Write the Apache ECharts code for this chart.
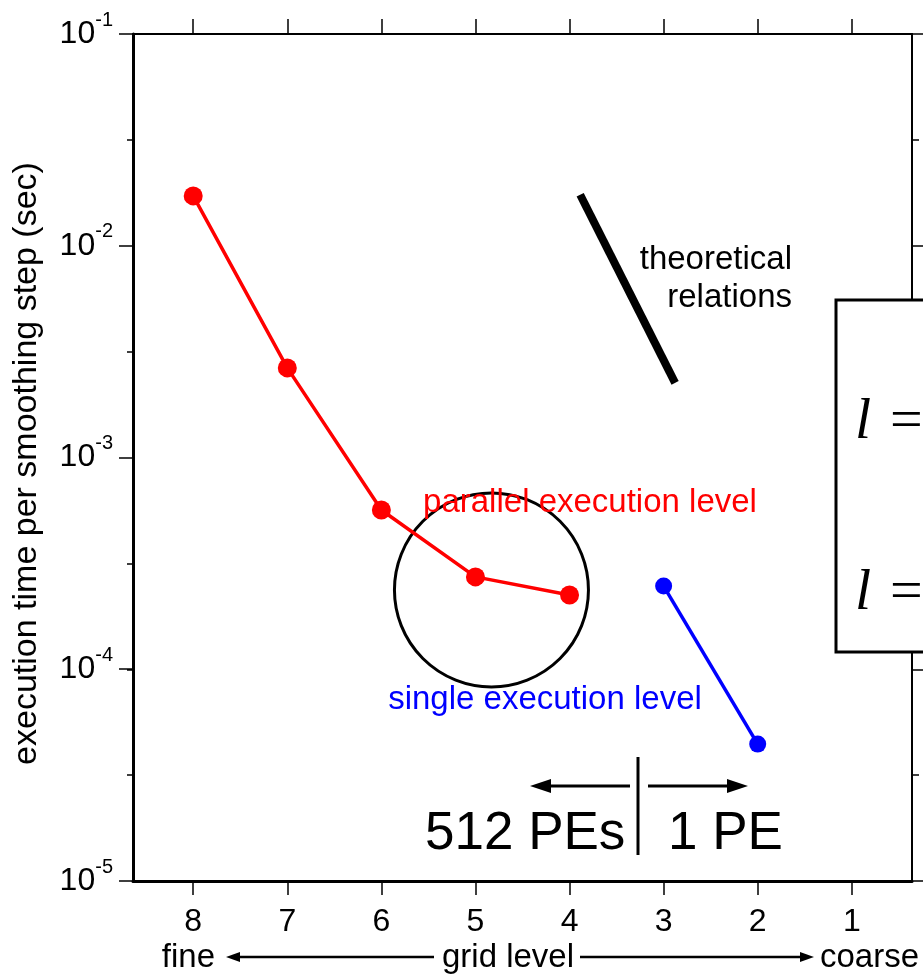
<!DOCTYPE html>
<html>
<head>
<meta charset="utf-8">
<script src="https://cdn.jsdelivr.net/npm/echarts@6/dist/echarts.min.js"></script>
<style>
  html, body { margin: 0; padding: 0; background: #fff; }
  #chart { width: 923px; height: 976px; }
</style>
</head>
<body>
<div id="chart"></div>
<script>
// grid levels on the x axis (8 = fine ... 1 = coarse)
var gridLevels = [1, 2, 3, 4, 5, 6, 7, 8];

// parallel execution level (512 PEs)
var parallelLevels = [8, 7, 6, 5, 4];
var parallelTimes = [1.72e-2, 2.65e-3, 5.65e-4, 2.73e-4, 2.24e-4];

// single execution level (1 PE)
var singleLevels = [3, 2];
var singleTimes = [2.47e-4, 4.43e-5];

// theoretical relation segment
var theoryLevels = [3.887, 2.878];
var theoryTimes = [1.74e-2, 2.25e-3];

// highlighted region
var circleLevel = [4.83];
var circleTime = [2.37e-4];

var FONT = 'Liberation Sans, Arial, sans-serif';

function zip(xs, ys) {
  var out = [];
  for (var i = 0; i < xs.length; i++) out.push([xs[i], ys[i]]);
  return out;
}

var chart = echarts.init(document.getElementById('chart'));

var lRich = {
  i: { font: 'italic 58px Liberation Serif, serif', fill: '#000', padding: [0, 19, 0, 0] },
  n: { font: '58px Liberation Serif, serif', fill: '#000' }
};

var option = {
  animation: false,
  backgroundColor: '#fff',
  grid: { left: 133, right: 11, top: 34, bottom: 95, containLabel: false, outerBoundsMode: 'none' },
  xAxis: [
    {
      type: 'value', inverse: true, min: 0.36, max: 8.64, position: 'bottom',
      axisLine: { show: true, onZero: false, lineStyle: { color: '#000', width: 3 } },
      axisTick: { show: true, inside: false, length: 14, customValues: gridLevels, lineStyle: { color: '#000', width: 1.5 } },
      axisLabel: { show: true, customValues: gridLevels, margin: 25, fontSize: 32, lineHeight: 32, color: '#000', fontFamily: FONT },
      splitLine: { show: false }
    },
    {
      type: 'value', inverse: true, min: 0.36, max: 8.64, position: 'top',
      axisLine: { show: true, onZero: false, lineStyle: { color: '#000', width: 2 } },
      axisTick: { show: true, inside: false, length: 15, customValues: gridLevels, lineStyle: { color: '#000', width: 1.5 } },
      axisLabel: { show: false },
      splitLine: { show: false }
    }
  ],
  yAxis: [
    {
      type: 'log', min: 1e-5, max: 1e-1, splitNumber: 4, position: 'left',
      axisLine: { show: true, onZero: false, lineStyle: { color: '#000', width: 3 } },
      axisTick: { show: true, inside: false, length: 14, lineStyle: { color: '#000', width: 1.5 } },
      axisLabel: {
        margin: 20,
        formatter: function (v) {
          var e = Math.round(Math.log10(v));
          return '{b|10}{s|' + e + '}';
        },
        rich: {
          b: { fontSize: 32, lineHeight: 48, padding: [8, 0, 0, 0], color: '#000', fontFamily: FONT, verticalAlign: 'top' },
          s: { fontSize: 20, lineHeight: 20, color: '#000', fontFamily: FONT, verticalAlign: 'top' }
        }
      },
      splitLine: { show: false },
      name: 'execution time per smoothing step (sec)',
      nameLocation: 'middle',
      nameRotate: 90,
      nameGap: 89,
      nameTextStyle: { fontSize: 34, color: '#000', fontFamily: FONT, padding: [0, 12, 0, 0] }
    },
    {
      type: 'value', min: -5, max: -1, interval: 0.5, position: 'left',
      axisLine: { show: false, onZero: false },
      axisTick: { show: true, inside: false, length: 6, lineStyle: { color: '#000', width: 1.5 } },
      axisLabel: { show: false },
      splitLine: { show: false }
    },
    {
      type: 'value', min: -5, max: -1, interval: 1, position: 'right',
      axisLine: { show: true, onZero: false, lineStyle: { color: '#000', width: 2 } },
      axisTick: { show: true, inside: false, length: 12, lineStyle: { color: '#000', width: 1.5 } },
      axisLabel: { show: false },
      splitLine: { show: false }
    },
    {
      type: 'value', min: -5, max: -1, interval: 0.5, position: 'right',
      axisLine: { show: false, onZero: false },
      axisTick: { show: true, inside: false, length: 7, lineStyle: { color: '#000', width: 1.5 } },
      axisLabel: { show: false },
      splitLine: { show: false }
    }
  ],
  series: [
    {
      name: 'theory', type: 'line', data: zip(theoryLevels, theoryTimes),
      symbol: 'none', silent: true,
      lineStyle: { color: '#000', width: 8 }
    },
    {
      name: 'circle', type: 'scatter', data: zip(circleLevel, circleTime),
      symbol: 'circle', symbolSize: 194, silent: true,
      itemStyle: { color: 'rgba(0,0,0,0)', borderColor: '#000', borderWidth: 3, opacity: 1 }
    },
    {
      name: 'parallel execution level', type: 'line', data: zip(parallelLevels, parallelTimes),
      symbol: 'circle', symbolSize: 19,
      itemStyle: { color: '#ff0000' },
      lineStyle: { color: '#ff0000', width: 3.5 }
    },
    {
      name: 'single execution level', type: 'line', data: zip(singleLevels, singleTimes),
      symbol: 'circle', symbolSize: 17,
      itemStyle: { color: '#0000ff' },
      lineStyle: { color: '#0000ff', width: 3.5 }
    }
  ],
  graphic: [
    { type: 'text', x: 792, y: 279, z: 20,
      style: { text: 'theoretical\nrelations', align: 'right', verticalAlign: 'middle', lineHeight: 38, font: '33px ' + FONT, fill: '#000' } },
    { type: 'text', x: 590, y: 503, z: 20,
      style: { text: 'parallel execution level', align: 'center', verticalAlign: 'middle', font: '33px ' + FONT, fill: '#ff0000' } },
    { type: 'text', x: 545, y: 700, z: 20,
      style: { text: 'single execution level', align: 'center', verticalAlign: 'middle', font: '33px ' + FONT, fill: '#0000ff' } },
    { type: 'text', x: 425, y: 834, z: 20,
      style: { text: '512 PEs', align: 'left', verticalAlign: 'middle', font: '53px ' + FONT, fill: '#000' } },
    { type: 'text', x: 668, y: 834, z: 20,
      style: { text: '1 PE', align: 'left', verticalAlign: 'middle', font: '53px ' + FONT, fill: '#000' } },
    { type: 'line', z: 20, shape: { x1: 638, y1: 757, x2: 638, y2: 855 }, style: { stroke: '#000', lineWidth: 3 } },
    { type: 'line', z: 20, shape: { x1: 630, y1: 786, x2: 545, y2: 786 }, style: { stroke: '#000', lineWidth: 3 } },
    { type: 'polygon', z: 20, shape: { points: [[530, 786], [551, 779], [551, 793]] }, style: { fill: '#000' } },
    { type: 'line', z: 20, shape: { x1: 648, y1: 786, x2: 733, y2: 786 }, style: { stroke: '#000', lineWidth: 3 } },
    { type: 'polygon', z: 20, shape: { points: [[748, 786], [727, 779], [727, 793]] }, style: { fill: '#000' } },
    { type: 'rect', z: 30, shape: { x: 836, y: 300, width: 200, height: 352 }, style: { fill: '#fff', stroke: '#000', lineWidth: 3 } },
    { type: 'text', x: 855, y: 423, z: 31,
      style: { text: '{i|l}{n|=}', verticalAlign: 'middle', align: 'left', rich: lRich } },
    { type: 'text', x: 855, y: 594, z: 31,
      style: { text: '{i|l}{n|=}', verticalAlign: 'middle', align: 'left', rich: lRich } },
    { type: 'text', x: 215, y: 958, z: 20,
      style: { text: 'fine', align: 'right', verticalAlign: 'middle', font: '33px ' + FONT, fill: '#000' } },
    { type: 'text', x: 508, y: 958, z: 20,
      style: { text: 'grid level', align: 'center', verticalAlign: 'middle', font: '33px ' + FONT, fill: '#000' } },
    { type: 'text', x: 820, y: 958, z: 20,
      style: { text: 'coarse', align: 'left', verticalAlign: 'middle', font: '33px ' + FONT, fill: '#000' } },
    { type: 'line', z: 20, shape: { x1: 236, y1: 957, x2: 434, y2: 957 }, style: { stroke: '#000', lineWidth: 2.5 } },
    { type: 'polygon', z: 20, shape: { points: [[226, 957], [240, 952], [240, 962]] }, style: { fill: '#000' } },
    { type: 'line', z: 20, shape: { x1: 580, y1: 957, x2: 804, y2: 957 }, style: { stroke: '#000', lineWidth: 2.5 } },
    { type: 'polygon', z: 20, shape: { points: [[814, 957], [800, 952], [800, 962]] }, style: { fill: '#000' } }
  ]
};

chart.setOption(option);
</script>
</body>
</html>
